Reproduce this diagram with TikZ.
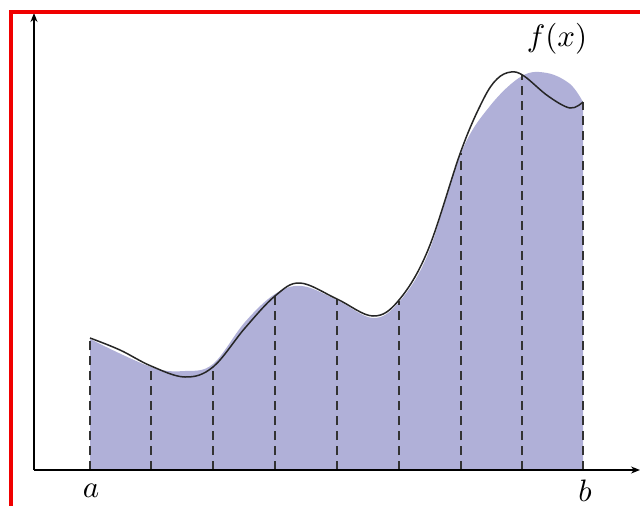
\documentclass[tikz,border=0pt]{standalone}
\usetikzlibrary{arrows.meta}
\definecolor{areafill}{RGB}{176,176,216}
\definecolor{frame}{RGB}{240,0,0}
\begin{document}
\begin{tikzpicture}[x=1pt,y=-1pt,
  axis/.style={line width=1.4pt,-{Stealth[length=9pt,width=7pt]}},
  curve/.style={line width=1.5pt,black!85},
  sample/.style={line width=1.3pt,black!80,dash pattern=on 9pt off 6pt},
  lbl/.style={scale=3.1,inner sep=0pt,anchor=base}]
\useasboundingbox (0,0) rectangle (640,506);
\fill[white] (0,0) rectangle (640,506);
% sample points
\coordinate (b0) at (90,470);  \coordinate (p0) at (90,339);
\coordinate (b1) at (151,470); \coordinate (p1) at (151,366);
\coordinate (b2) at (213,470); \coordinate (p2) at (213,366);
\coordinate (b3) at (275,470); \coordinate (p3) at (275,295);
\coordinate (b4) at (337,470); \coordinate (p4) at (337,299);
\coordinate (b5) at (399,470); \coordinate (p5) at (399,301);
\coordinate (b6) at (461,470); \coordinate (p6) at (461,153);
\coordinate (b7) at (522,470); \coordinate (p7) at (522,75);
\coordinate (b8) at (583,470); \coordinate (p8) at (583,102);
% fill
\fill[areafill] (b0) -- plot[smooth,tension=0.6] coordinates {(p0) (151,367) (185,371) (213,364) (245,322) (275,294) (302,286) (337,300) (373,318) (399,302) (428,254) (461,153) (490,106) (522,76) (547,73) (570,84) (p8)} -- (b8) -- cycle;
% dashed lines
\foreach \i in {0,...,8} \draw[sample] (b\i) -- (p\i);
% curve
\draw[curve] plot[smooth,tension=0.6] coordinates {(90,338) (120,350) (151,366) (185,377) (213,367) (245,328) (275,296) (300,283) (337,299) (373,316) (399,300) (428,250) (461,151) (483,100) (497,79) (511,72) (524,76) (548,96) (570,108) (583,102)};
% axes
\coordinate (o) at (34,470);
\coordinate (xe) at (640,470);
\coordinate (ye) at (34,13);
\draw[axis] (o) -- (xe);
\draw[axis] (o) -- (ye);
% frame
\draw[frame,line width=4pt] (10.5,506) -- (10.5,12) -- (640,12);
% labels
\node[lbl] (la) at (91,497) {$a$};
\node[lbl] (lb) at (585,501) {$b$};
\node[lbl] (lf) at (557,46) {$f(x)$};
\end{tikzpicture}
\end{document}
